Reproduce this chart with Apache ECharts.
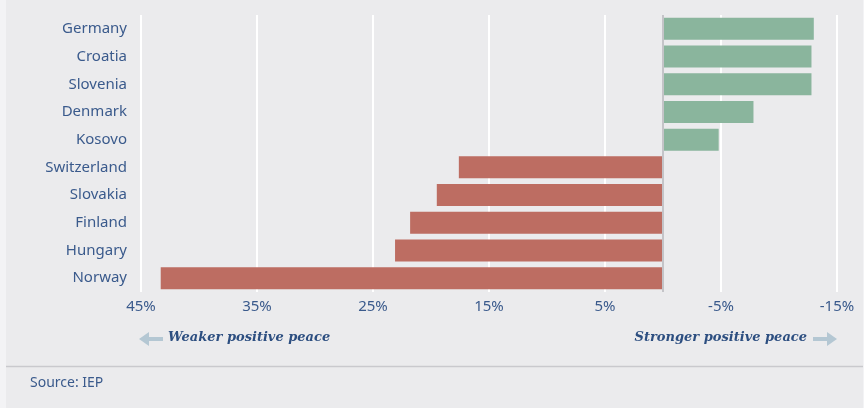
<!DOCTYPE html>
<html>
<head>
<meta charset="utf-8">
<title>Positive peace change</title>
<script src="https://cdn.jsdelivr.net/npm/echarts@6/dist/echarts.min.js"></script>
<style>
  html, body { margin: 0; padding: 0; background: #f3f3f5; }
  #main { width: 864px; height: 408px; }
</style>
</head>
<body>
<div id="main"></div>
<script>
// countries, top to bottom
var countries = ['Germany', 'Croatia', 'Slovenia', 'Denmark', 'Kosovo',
                 'Switzerland', 'Slovakia', 'Finland', 'Hungary', 'Norway'];
// percentage change (negative = stronger positive peace)
var changes = [-13.0, -12.8, -12.8, -7.8, -4.8, 17.6, 19.5, 21.8, 23.1, 43.3];
var gridValues = [45, 35, 25, 15, 5, -5, -15];

var blue = '#3a5a8c';
var sans = '"Noto Sans"';
var chart = echarts.init(document.getElementById('main'));

chart.setOption({
  backgroundColor: '#f3f3f5',
  animation: false,
  grid: { left: 141, right: 27, top: 15, bottom: 116 },
  xAxis: {
    type: 'value',
    inverse: true,
    min: -15,
    max: 45,
    interval: 5,
    axisLine: { show: false },
    axisTick: { show: false },
    splitLine: { show: false },
    axisLabel: {
      margin: 7,
      color: blue,
      fontSize: 15,
      fontFamily: sans,
      formatter: function (v) { return v % 10 === 0 ? '' : v + '%'; }
    }
  },
  yAxis: {
    type: 'category',
    inverse: true,
    data: countries,
    axisLine: { show: false },
    axisTick: { show: false },
    axisLabel: { margin: 14, color: blue, fontSize: 15, fontFamily: sans }
  },
  graphic: [
    { type: 'rect', z: -10, shape: { x: 6, y: 0, width: 857, height: 408 }, style: { fill: '#ebebed' } },
    { type: 'line', shape: { x1: 6, y1: 366.5, x2: 863, y2: 366.5 }, style: { stroke: '#c9c9cd', lineWidth: 1.5 } },
    { type: 'text', left: 30, top: 376, style: { text: 'Source: IEP', fill: blue, font: '14px "Noto Sans"' } },
    // weaker arrow
    { type: 'line', shape: { x1: 147, y1: 339, x2: 163, y2: 339 }, style: { stroke: '#b4c7d3', lineWidth: 4 } },
    { type: 'polygon', shape: { points: [[139, 339], [149, 332], [149, 346]] }, style: { fill: '#b4c7d3' } },
    { type: 'text', left: 168, top: 331, style: { text: 'Weaker positive peace', fill: '#2c4e80', font: 'italic bold 13px "DejaVu Serif"' } },
    // stronger arrow
    { type: 'line', shape: { x1: 813, y1: 339, x2: 829, y2: 339 }, style: { stroke: '#b4c7d3', lineWidth: 4 } },
    { type: 'polygon', shape: { points: [[837, 339], [827, 332], [827, 346]] }, style: { fill: '#b4c7d3' } },
    { type: 'text', right: 57, top: 331, style: { text: 'Stronger positive peace', fill: '#2c4e80', font: 'italic bold 13px "DejaVu Serif"' } }
  ],
  series: [{
    // white gridlines, kept behind the bars
    type: 'line',
    data: [],
    z: 1,
    markLine: {
      silent: true,
      z: 1,
      symbol: 'none',
      label: { show: false },
      animation: false,
      lineStyle: { color: '#ffffff', width: 2, type: 'solid' },
      data: gridValues.map(function (v) { return { xAxis: v }; })
    }
  }, {
    type: 'bar',
    data: changes,
    barWidth: 22,
    z: 3,
    itemStyle: {
      color: function (p) { return p.value < 0 ? '#8ab59d' : '#bd6d62'; }
    },
    markLine: {
      silent: true,
      z: 4,
      symbol: 'none',
      label: { show: false },
      animation: false,
      lineStyle: { color: '#c4c4c8', width: 2, type: 'solid' },
      data: [{ xAxis: 0 }]
    }
  }]
});
</script>
</body>
</html>
